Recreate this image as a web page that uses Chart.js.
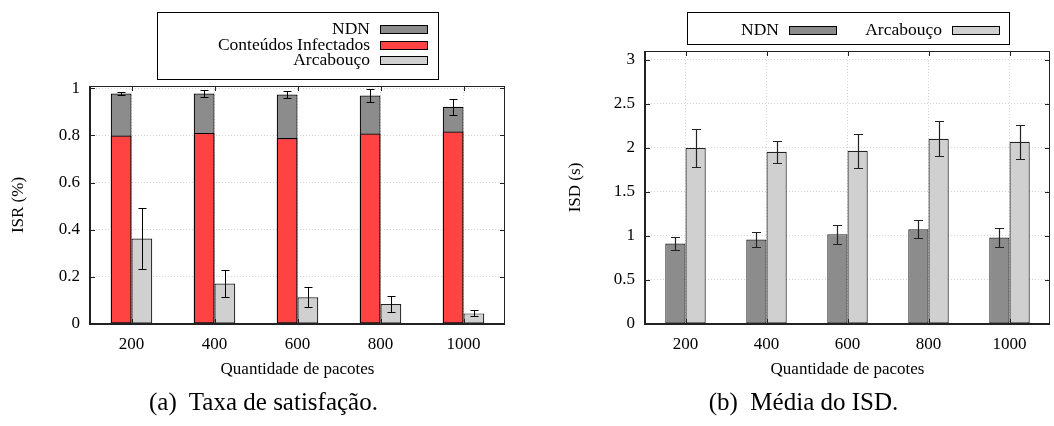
<!DOCTYPE html>
<html>
<head>
<meta charset="utf-8">
<script src="https://cdn.jsdelivr.net/npm/chart.js@4.4.0/dist/chart.umd.min.js"></script>
<style>
  body { margin: 0; background: #fff; }
  #wrap { position: relative; width: 1054px; height: 426px; }
  canvas { position: absolute; top: 0; }
  .cap { position: absolute; top: 388px; width: 527px; text-align: center; white-space: pre;
         font-family: 'Liberation Serif', serif; font-size: 25px; color: #000; }
</style>
</head>
<body>
<div id="wrap">
  <canvas id="isr" width="527" height="426" style="left:0"></canvas>
  <canvas id="isd" width="527" height="426" style="left:527px"></canvas>
  <div class="cap" style="left:0">(a)  Taxa de satisfação.</div>
  <div class="cap" style="left:540px">(b)  Média do ISD.</div>
</div>
<script>
// Data
const packets = ['200', '400', '600', '800', '1000'];

// (a) ISR
const isrNdn = [0.978, 0.978, 0.974, 0.970, 0.922];
const isrNdnErr = [0.007, 0.013, 0.014, 0.029, 0.033];
const isrInfected = [0.800, 0.811, 0.789, 0.808, 0.817];
const isrFramework = [0.363, 0.172, 0.113, 0.085, 0.045];
const isrFrameworkErr = [0.131, 0.059, 0.042, 0.034, 0.0125];
const isrTicks = [0, 0.2, 0.4, 0.6, 0.8, 1];
const isrTickLabels = ['0', '0.2', '0.4', '0.6', '0.8', '1'];

// (b) ISD
const isdNdn = [0.914, 0.959, 1.020, 1.076, 0.982];
const isdNdnErr = [0.078, 0.089, 0.106, 0.104, 0.111];
const isdFramework = [1.998, 1.956, 1.968, 2.103, 2.069];
const isdFrameworkErr = [0.217, 0.125, 0.193, 0.199, 0.191];
const isdTicks = [0, 0.5, 1, 1.5, 2, 2.5, 3];
const isdTickLabels = ['0', '0.5', '1', '1.5', '2', '2.5', '3'];

const serif = "'Liberation Serif', 'Times New Roman', serif";

// error bars from dataset.errors
const errorBars = {
    id: 'errorBars',
    afterDatasetsDraw(chart, args, opts) {
        const ctx = chart.ctx;
        const y = chart.scales.y;
        ctx.save();
        ctx.strokeStyle = opts.color;
        ctx.lineWidth = opts.width;
        chart.data.datasets.forEach((ds, i) => {
            if (!ds.errors) return;
            chart.getDatasetMeta(i).data.forEach((bar, j) => {
                const v = ds.data[j], e = ds.errors[j];
                const x = Math.round(bar.x) + 0.5;
                const t = Math.round(y.getPixelForValue(v + e)) + 0.5;
                const b = Math.round(y.getPixelForValue(v - e)) + 0.5;
                ctx.beginPath();
                ctx.moveTo(x, t); ctx.lineTo(x, b);
                ctx.moveTo(x - opts.cap, t); ctx.lineTo(x + opts.cap, t);
                ctx.moveTo(x - opts.cap, b); ctx.lineTo(x + opts.cap, b);
                ctx.stroke();
            });
        });
        ctx.restore();
    }
};

// gnuplot style box with inward ticks
const frame = {
    id: 'frame',
    afterDraw(chart) {
        const { ctx, chartArea: a, scales: { x, y } } = chart;
        const L = 5;
        ctx.save();
        ctx.strokeStyle = '#222';
        ctx.lineWidth = 1;
        ctx.beginPath();
        y.ticks.forEach(t => {
            const py = Math.round(y.getPixelForValue(t.value)) + 0.5;
            ctx.moveTo(a.left, py); ctx.lineTo(a.left + L, py);
            ctx.moveTo(a.right, py); ctx.lineTo(a.right - L, py);
        });
        x.ticks.forEach((t, i) => {
            const px = Math.round(x.getPixelForTick(i)) + 0.5;
            ctx.moveTo(px, a.bottom); ctx.lineTo(px, a.bottom - L);
            ctx.moveTo(px, a.top); ctx.lineTo(px, a.top + L);
        });
        ctx.stroke();
        ctx.strokeRect(Math.round(a.left) + 0.5, Math.round(a.top) + 0.5,
            Math.round(a.right - a.left) - 1, Math.round(a.bottom - a.top) - 1);
        ctx.lineWidth = 2;
        ctx.beginPath();
        ctx.moveTo(Math.round(a.left), a.top);
        ctx.lineTo(Math.round(a.left), Math.round(a.bottom));
        ctx.lineTo(a.right, Math.round(a.bottom));
        ctx.stroke();
        ctx.restore();
    }
};

// boxed legend: label text right aligned, swatch after it
const boxLegend = {
    id: 'boxLegend',
    afterDraw(chart, args, opts) {
        const ctx = chart.ctx;
        const b = opts.box;
        ctx.save();
        ctx.strokeStyle = '#000';
        ctx.lineWidth = 1;
        ctx.strokeRect(b[0] + 0.5, b[1] + 0.5, b[2] - b[0], b[3] - b[1]);
        ctx.font = '17.5px ' + serif;
        ctx.textAlign = 'right';
        ctx.textBaseline = 'middle';
        opts.entries.forEach(en => {
            const ds = chart.data.datasets[en.ds];
            ctx.fillStyle = '#000';
            ctx.fillText(ds.label, en.x, en.y);
            ctx.fillStyle = ds.backgroundColor;
            ctx.fillRect(en.x + 10, en.y - 4, 47, 8);
            ctx.strokeRect(en.x + 10.5, en.y - 3.5, 47, 8);
        });
        ctx.restore();
    }
};

function axes(yTicks, yLabels, yMax, yTitle, yWidth) {
    return {
        x: {
            grid: { offset: false, drawTicks: false, color: '#d4d4d4' },
            border: { display: false, dash: [1, 2] },
            ticks: { color: '#000', padding: 10, font: { family: serif, size: 17 } },
            title: { display: true, text: 'Quantidade de pacotes', color: '#000', padding: 0,
                     font: { family: serif, size: 17 } },
            afterFit(s) { s.height = 56; }
        },
        y: {
            stacked: false,
            min: 0,
            max: yMax,
            afterBuildTicks(s) { s.ticks = yTicks.map(v => ({ value: v })); },
            grid: { drawTicks: false, color: '#d4d4d4' },
            border: { display: false, dash: [1, 2] },
            ticks: {
                color: '#000', padding: 10, font: { family: serif, size: 17 },
                callback: (v, i) => yLabels[i]
            },
            title: { display: true, text: yTitle, color: '#000', padding: { top: 8, bottom: 0 },
                     font: { family: serif, size: 17 } },
            afterFit(s) { s.width = yWidth; }
        }
    };
}

const barDefaults = {
    borderColor: '#000', borderWidth: 1.2, borderSkipped: false,
    categoryPercentage: 0.5, barPercentage: 1
};

// (a) Taxa de satisfação
new Chart(document.getElementById('isr'), {
    type: 'bar',
    data: {
        labels: packets,
        datasets: [
            { label: 'NDN', data: isrNdn, errors: isrNdnErr, stack: 'a', order: 2, backgroundColor: '#8c8c8c', borderColor: '#000' },
            { label: 'Conteúdos Infectados', data: isrInfected, stack: 'a', order: 1, backgroundColor: '#ff4242', borderColor: '#000' },
            { label: 'Arcabouço', data: isrFramework, errors: isrFrameworkErr, stack: 'b', order: 2, backgroundColor: '#d0d0d0', borderColor: '#222' }
        ]
    },
    options: {
        responsive: false,
        animation: false,
        events: [],
        datasets: { bar: barDefaults },
        layout: { padding: { left: 0, top: 86, right: 22, bottom: 46 } },
        scales: axes(isrTicks, isrTickLabels, 1.01, 'ISR (%)', 90),
        plugins: {
            legend: { display: false },
            tooltip: { enabled: false },
            errorBars: { color: '#000', width: 1, cap: 4 },
            boxLegend: {
                box: [157, 12, 438, 79],
                entries: [{ ds: 0, x: 370, y: 29 }, { ds: 1, x: 370, y: 45 }, { ds: 2, x: 370, y: 60 }]
            }
        }
    },
    plugins: [errorBars, frame, boxLegend]
});

// (b) Média do ISD
new Chart(document.getElementById('isd'), {
    type: 'bar',
    data: {
        labels: packets,
        datasets: [
            { label: 'NDN', data: isdNdn, errors: isdNdnErr, backgroundColor: '#8c8c8c', borderColor: '#222' },
            { label: 'Arcabouço', data: isdFramework, errors: isdFrameworkErr, backgroundColor: '#d0d0d0', borderColor: '#222' }
        ]
    },
    options: {
        responsive: false,
        animation: false,
        events: [],
        datasets: { bar: barDefaults },
        layout: { padding: { left: 30, top: 51, right: 4, bottom: 46 } },
        scales: axes(isdTicks, isdTickLabels, 3.1, 'ISD (s)', 88),
        plugins: {
            legend: { display: false },
            tooltip: { enabled: false },
            errorBars: { color: '#222', width: 1.2, cap: 4.5 },
            boxLegend: {
                box: [160, 12, 482, 44],
                entries: [{ ds: 0, x: 252, y: 30 }, { ds: 1, x: 415, y: 30 }]
            }
        }
    },
    plugins: [errorBars, frame, boxLegend]
});
</script>
</body>
</html>
